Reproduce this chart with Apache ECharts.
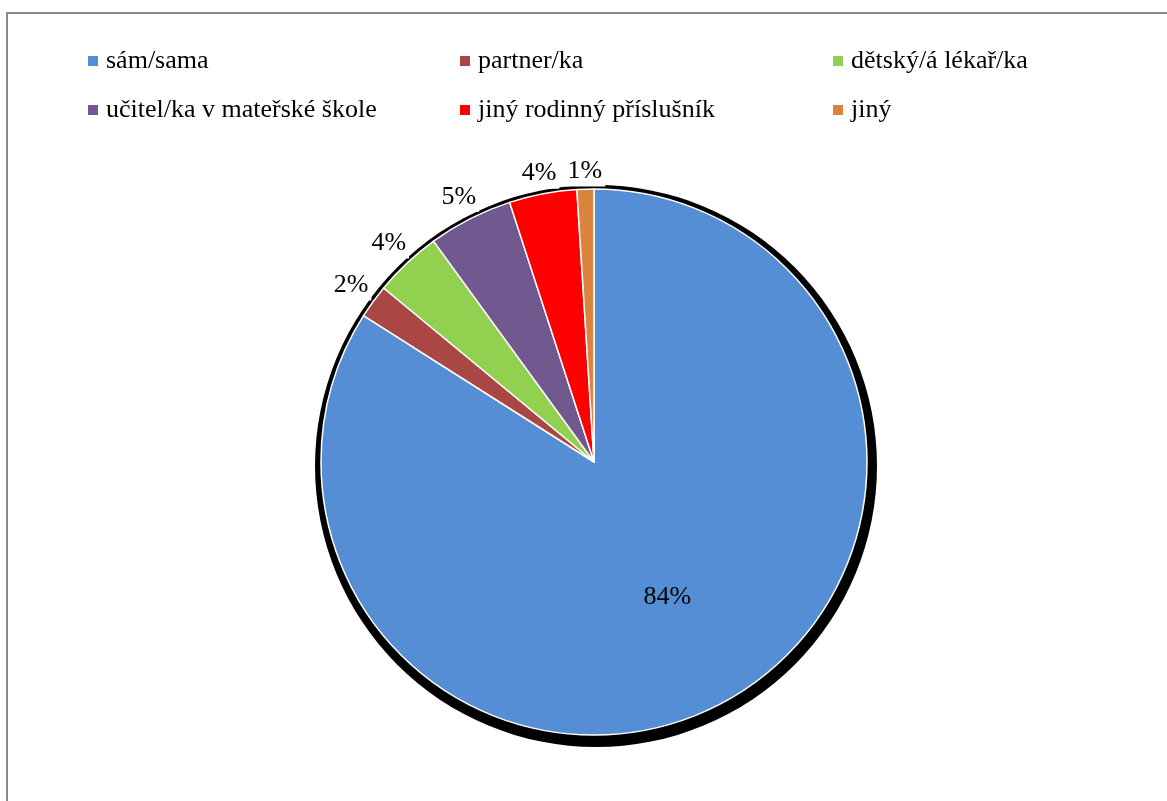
<!DOCTYPE html>
<html>
<head>
<meta charset="utf-8">
<script src="https://cdn.jsdelivr.net/npm/echarts@6/dist/echarts.min.js"></script>
<style>
  html, body { margin: 0; padding: 0; background: #fff; overflow: hidden; }
  #frame { position: absolute; left: 6px; top: 12px; width: 1300px; height: 900px;
           border-left: 2px solid #898989; border-top: 2px solid #898989; box-sizing: border-box; }
  #chart { position: absolute; left: 0; top: 0; width: 1167px; height: 801px; }
</style>
</head>
<body>
<div id="frame"></div>
<div id="chart"></div>
<script>
// Who looks after the child (share of answers, %)
const categories = [
  'sám/sama',
  'partner/ka',
  'dětský/á lékař/ka',
  'učitel/ka v mateřské škole',
  'jiný rodinný příslušník',
  'jiný'
];
const shares = [84, 2, 4, 5, 4, 1];
const colors = ['#558ED5', '#AA4643', '#92D050', '#71588F', '#FF0000', '#DB843D'];

// legend is laid out in three columns of two entries
const legendColumns = [[0, 3], [1, 4], [2, 5]];
const legendLefts = [86, 458, 831];

const FONT = '"Liberation Serif", "Times New Roman", serif';

// mid angle of each slice, clockwise from 12 o'clock
const total = shares.reduce((a, b) => a + b, 0);
const midAngles = [];
let acc = 0;
shares.forEach(v => { midAngles.push((acc + v / 2) / total * 2 * Math.PI); acc += v; });

const chart = echarts.init(document.getElementById('chart'), null, { renderer: 'canvas' });

const legends = legendColumns.map((col, i) => ({
  orient: 'vertical',
  left: legendLefts[i],
  top: 47,
  padding: 0,
  itemGap: 21,
  itemWidth: 12,
  itemHeight: 12,
  icon: 'rect',
  selectedMode: false,
  data: col.map(k => categories[k]),
  textStyle: { fontFamily: FONT, fontSize: 26, color: '#000', lineHeight: 28, padding: [0, 0, 0, 2] }
}));

const option = {
  backgroundColor: 'transparent',
  animation: false,
  color: colors,
  legend: legends,
  series: [
    {
      // dark rim under the pie
      type: 'pie',
      silent: true,
      z: 1,
      center: [596, 466],
      radius: 281,
      label: { show: false },
      labelLine: { show: false },
      itemStyle: { color: '#000' },
      data: [{ name: '_rim', value: 1 }]
    },
    {
      type: 'pie',
      z: 2,
      center: [594, 462],
      radius: 273,
      startAngle: 90,
      clockwise: true,
      avoidLabelOverlap: false,
      itemStyle: { borderColor: '#fff', borderWidth: 1.5 },
      label: {
        show: true,
        position: 'outside',
        formatter: '{d}%',
        fontFamily: FONT,
        fontSize: 26,
        color: '#000',
        backgroundColor: '#fff',
        padding: [2, 3],
        distanceToLabelLine: 0
      },
      labelLine: { show: false, length: 2, length2: 0 },
      percentPrecision: 0,
      labelLayout: function (p) {
        if (p.dataIndex === 0) return { dx: 6, dy: 13 };
        const a = midAngles[p.dataIndex];
        const ux = Math.sin(a), uy = -Math.cos(a);
        const r = p.labelRect;
        const ax = p.align === 'right' ? r.x + r.width : (p.align === 'left' ? r.x : r.x + r.width / 2);
        const ay = r.y + r.height / 2;
        const ext = Math.abs(ux) * r.width / 2 + Math.abs(uy) * r.height / 2;
        return { x: ax + ux * ext, y: ay + uy * ext, align: 'center', verticalAlign: 'middle' };
      },
      data: categories.map((name, i) => {
        const item = { name: name, value: shares[i] };
        if (i === 0) item.label = { position: 'inside', backgroundColor: 'transparent' };
        return item;
      })
    }
  ]
};

chart.setOption(option);
</script>
</body>
</html>
